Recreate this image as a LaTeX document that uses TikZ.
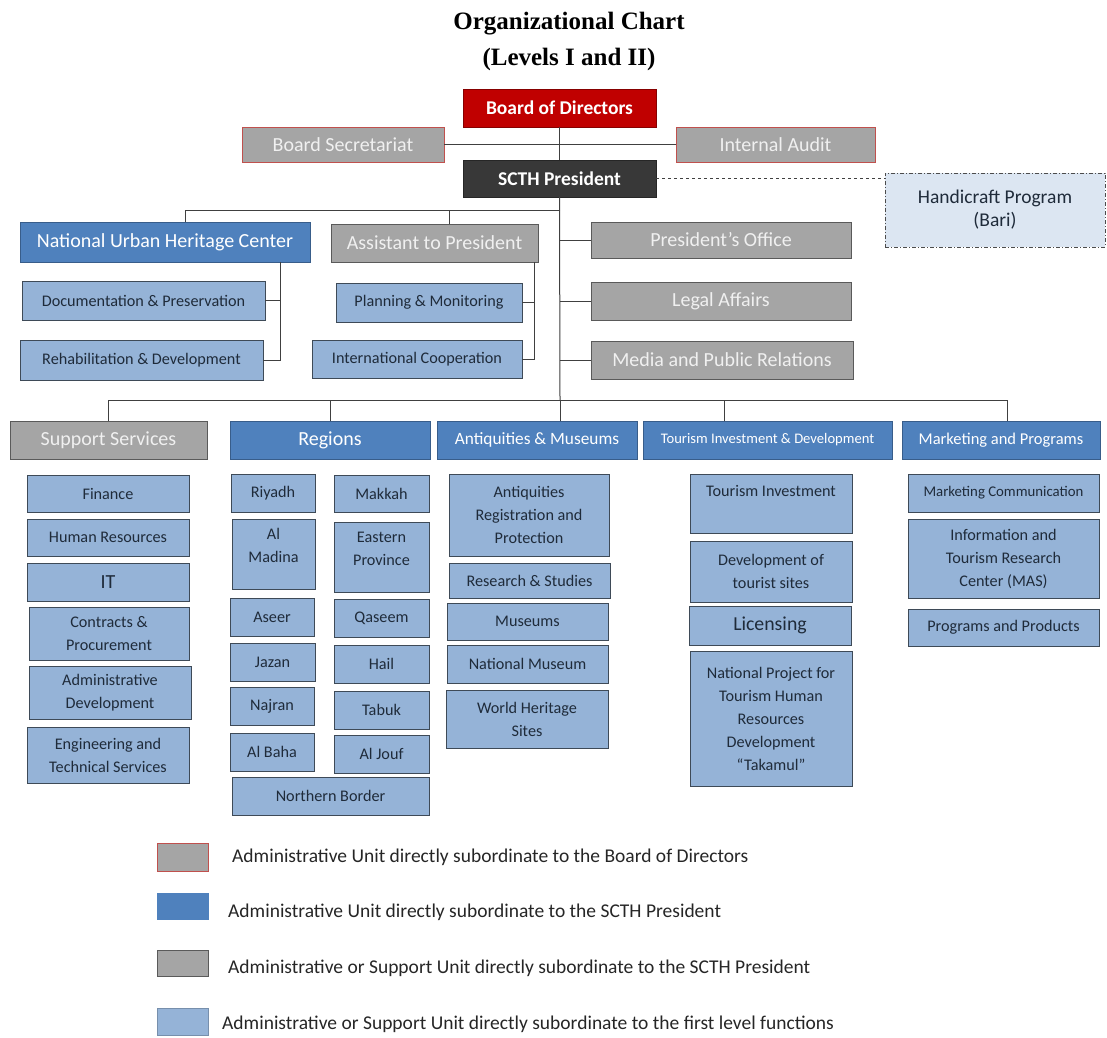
\documentclass[tikz,border=0pt]{standalone}
\usepackage{fontspec}
\setmainfont{Carlito}
\newfontfamily\titlefont{Liberation Serif}
\definecolor{lblue}{HTML}{95B3D7}
\definecolor{mblue}{HTML}{4F81BD}
\definecolor{mbdr}{HTML}{385D8A}
\definecolor{ggray}{HTML}{A5A5A5}
\definecolor{gbdr}{HTML}{5A5A5A}
\definecolor{cbdr}{HTML}{3E4A57}
\definecolor{dtext}{HTML}{1F2B3A}
\definecolor{ltext}{HTML}{F0F0F0}
\definecolor{dred}{HTML}{C00000}
\definecolor{rbdr}{HTML}{C0504D}
\definecolor{pblue}{HTML}{DCE6F2}
\definecolor{lnc}{HTML}{404040}
\newcommand{\bx}[7]{\node[#1,anchor=north west,minimum width=#4pt,minimum height=#5pt] (#6) at (#2,#3) {#7};}
\tikzset{
  base/.style={inner sep=1pt,outer sep=0pt,align=center,line width=0.9pt},
  cb/.style={base,fill=lblue,draw=cbdr,text=dtext,font=\fontsize{16.2}{23}\selectfont},
  hb/.style={base,fill=mblue,draw=mbdr,text=white,font=\fontsize{20}{23}\selectfont},
  gb/.style={base,fill=ggray,draw=gbdr,text=ltext,font=\fontsize{20}{23}\selectfont},
  rb/.style={base,fill=ggray,draw=rbdr,text=ltext,font=\fontsize{20}{23}\selectfont},
  conn/.style={draw=lnc,line width=1pt},
  legtext/.style={anchor=west,inner sep=0pt,text=black!85,font=\fontsize{19.5}{23}\selectfont},
}
\begin{document}
\begin{tikzpicture}[x=1pt,y=-1pt]
\useasboundingbox[fill=white] (0,0) rectangle (1107,1037);
% title
\node[font=\titlefont\bfseries\fontsize{25}{30}\selectfont,align=center] (title) at (569,41) {Organizational Chart\\[6pt](Levels I and II)};
% top level
\bx{base,fill=dred,draw=dred!70!black,text=white,font=\bfseries\fontsize{19.5}{22}\selectfont}{463}{89}{193}{38}{board}{Board of Directors}
\bx{rb}{242}{127}{202}{35}{bsec}{Board Secretariat}
\bx{rb}{676}{127}{199}{35}{iaudit}{Internal Audit}
\bx{base,fill=black!78,draw=black!85,text=white,font=\bfseries\fontsize{19.5}{22}\selectfont}{463}{160}{193}{37}{pres}{SCTH President}
\bx{base,fill=pblue,draw=black!70,dash pattern=on 4pt off 2pt on 1pt off 2pt,line width=0.8pt,text=dtext,font=\fontsize{19.5}{23}\selectfont}{885}{173}{220}{74}{handi}{Handicraft Program\\(Bari)}
% second level upper
\bx{hb}{20}{222}{290}{40}{nuhc}{National Urban Heritage Center}
\bx{gb}{331}{224}{207}{38}{asst}{Assistant to President}
\bx{cb}{22}{281}{243}{39}{docs}{Documentation \& Preservation}
\bx{cb}{20}{340}{243}{40}{rehab}{Rehabilitation \& Development}
\bx{cb}{336}{283}{186}{39}{plan}{Planning \& Monitoring}
\bx{cb}{312}{340}{210}{38}{intl}{International Cooperation}
\bx{gb}{591}{222}{260}{36}{poff}{President's Office}
\bx{gb}{591}{282}{260}{38}{legal}{Legal Affairs}
\bx{gb}{591}{341}{262}{38}{media}{Media and Public Relations}
% second level lower headers
\bx{gb}{10}{421}{197}{38}{supp}{Support Services}
\bx{hb}{230}{421}{200}{38}{reg}{Regions}
\bx{hb}{437}{421}{200}{38}{anti}{\fontsize{17.3}{20}\selectfont Antiquities \& Museums}
\bx{hb}{643}{421}{249}{38}{tour}{\fontsize{14.6}{17}\selectfont Tourism Investment \& Development}
\bx{hb}{902}{421}{198}{38}{mkt}{\fontsize{16.5}{19}\selectfont Marketing and Programs}
% support
\bx{cb}{27}{475}{162}{37}{fin}{Finance}
\bx{cb}{27}{519}{162}{37}{hr}{Human Resources}
\bx{cb}{27}{563}{162}{38}{it}{\fontsize{20}{23}\selectfont IT}
\bx{cb}{29}{607}{160}{53}{contr}{Contracts \&\\Procurement}
\bx{cb}{29}{666}{162}{53}{admdev}{Administrative\\Development}
\bx{cb}{27}{727}{162}{56}{eng}{Engineering and\\Technical Services}
% regions
\bx{cb}{231}{474}{84}{38}{riyadh}{Riyadh}
\bx{cb}{334}{475}{95}{37}{makkah}{Makkah}
\bx{cb}{232}{519}{83}{70}{madina}{Al\\Madina\\[-6pt]}
\bx{cb}{334}{522}{95}{70}{eastern}{Eastern\\Province\\[-6pt]}
\bx{cb}{230}{598}{84}{38}{aseer}{Aseer}
\bx{cb}{334}{599}{95}{38}{qaseem}{Qaseem}
\bx{cb}{230}{643}{85}{38}{jazan}{Jazan}
\bx{cb}{334}{645}{95}{38}{hail}{Hail}
\bx{cb}{230}{687}{84}{38}{najran}{Najran}
\bx{cb}{334}{691}{95}{38}{tabuk}{Tabuk}
\bx{cb}{230}{733}{84}{38}{albaha}{Al Baha}
\bx{cb}{334}{735}{95}{38}{aljouf}{Al Jouf}
\bx{cb}{232}{777}{197}{38}{north}{Northern Border}
% antiquities
\bx{cb}{449}{474}{160}{82}{antreg}{Antiquities\\Registration and\\Protection}
\bx{cb}{449}{563}{161}{35}{research}{Research \& Studies}
\bx{cb}{447}{603}{161}{37}{museums}{Museums}
\bx{cb}{447}{645}{161}{38}{natmus}{National Museum}
\bx{cb}{446}{690}{162}{58}{whs}{World Heritage\\Sites}
% tourism
\bx{cb}{690}{474}{162}{59}{tinv}{Tourism Investment\\[2pt]}
\bx{cb}{690}{541}{162}{61}{devsites}{Development of\\tourist sites}
\bx{cb}{689}{606}{162}{39}{lic}{\fontsize{19.8}{23}\selectfont Licensing}
\bx{cb}{690}{651}{162}{135}{natproj}{National Project for\\Tourism Human\\Resources\\Development\\``Takamul''}
% marketing
\bx{cb}{908}{474}{191}{38}{mcomm}{\fontsize{14.8}{17}\selectfont Marketing Communication}
\bx{cb}{908}{519}{191}{79}{info}{Information and\\Tourism Research\\Center (MAS)}
\bx{cb}{908}{609}{191}{37}{prog}{Programs and Products}
% connectors
\coordinate (j1) at (560,210);
\coordinate (j2) at (560,400);
\coordinate (nb) at (280,262);
\coordinate (ab) at (534,262);
\draw[conn] (board.south) -- (pres.north);
\draw[conn] (bsec.east) -- (iaudit.west);
\draw[conn,dashed] (pres.east) -- (pres.east -| handi.west);
\draw[conn] (pres.south) -- (j2);
\draw[conn] (j1) -| ([xshift=20pt]nuhc.north);
\draw[conn] ([xshift=14.5pt]asst.north) -- ([xshift=14.5pt]asst.north |- j1);
\draw[conn] (nb) |- (rehab.east);
\draw[conn] (docs.east) -- (docs.east -| nb);
\draw[conn] (ab) |- (intl.east);
\draw[conn] (plan.east) -- (plan.east -| ab);
\draw[conn] (poff.west -| j1) -- (poff.west);
\draw[conn] (legal.west -| j1) -- (legal.west);
\draw[conn] (media.west -| j1) -- (media.west);
\draw[conn] (supp.north) |- ([xshift=6pt]mkt.north |- j2) -- ([xshift=6pt]mkt.north);
\draw[conn] (reg.north) -- (reg.north |- j2);
\draw[conn] (anti.north -| j2) -- (j2);
\draw[conn] ([xshift=-43.5pt]tour.north) -- ([xshift=-43.5pt]tour.north |- j2);
% legend
\bx{base,fill=ggray,draw=rbdr}{157}{843}{51}{28}{lg1}{}
\bx{base,fill=mblue,draw=mblue}{157}{893}{51}{26}{lg2}{}
\bx{base,fill=ggray,draw=gbdr}{157}{950}{51}{26}{lg3}{}
\bx{base,fill=lblue,draw=lblue!80!black}{157}{1008}{51}{27}{lg4}{}
\node[legtext] (lt1) at (232,857) {Administrative Unit directly subordinate to the Board of Directors};
\node[legtext] (lt2) at (228,912) {Administrative Unit directly subordinate to the SCTH President};
\node[legtext] (lt3) at (228,968) {Administrative or Support Unit directly subordinate to the SCTH President};
\node[legtext] (lt4) at (222,1024) {Administrative or Support Unit directly subordinate to the first level functions};
\end{tikzpicture}
\end{document}
